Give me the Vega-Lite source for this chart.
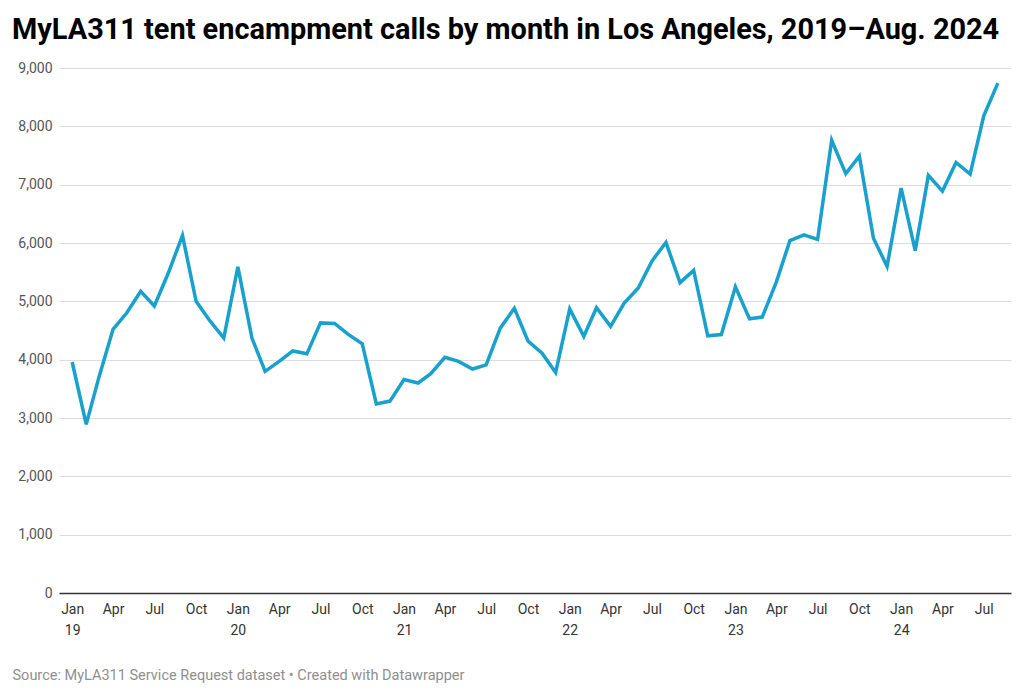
{
  "$schema": "https://vega.github.io/schema/vega-lite/v6.json",
  "width": 952,
  "height": 525,
  "autosize": {"type": "none"},
  "padding": {"left": 59, "top": 68, "right": 13, "bottom": 103},
  "background": "white",
  "title": {
    "text": "MyLA311 tent encampment calls by month in Los Angeles, 2019–Aug. 2024",
    "anchor": "start",
    "frame": "group",
    "dx": -47,
    "dy": 35,
    "offset": 28,
    "baseline": "alphabetic",
    "font": "Roboto",
    "fontSize": 28.9,
    "fontWeight": 700,
    "color": "#000000"
  },
  "config": {
    "view": {"stroke": null},
    "font": "Roboto"
  },
  "data": {
    "values": [
      {"month": "2019-01-01", "calls": 3960},
      {"month": "2019-02-01", "calls": 2890},
      {"month": "2019-03-01", "calls": 3700},
      {"month": "2019-04-01", "calls": 4520},
      {"month": "2019-05-01", "calls": 4800},
      {"month": "2019-06-01", "calls": 5170},
      {"month": "2019-07-01", "calls": 4920},
      {"month": "2019-08-01", "calls": 5490},
      {"month": "2019-09-01", "calls": 6130},
      {"month": "2019-10-01", "calls": 5000},
      {"month": "2019-11-01", "calls": 4660},
      {"month": "2019-12-01", "calls": 4370},
      {"month": "2020-01-01", "calls": 5590},
      {"month": "2020-02-01", "calls": 4370},
      {"month": "2020-03-01", "calls": 3800},
      {"month": "2020-04-01", "calls": 3970},
      {"month": "2020-05-01", "calls": 4150},
      {"month": "2020-06-01", "calls": 4100},
      {"month": "2020-07-01", "calls": 4630},
      {"month": "2020-08-01", "calls": 4620},
      {"month": "2020-09-01", "calls": 4430},
      {"month": "2020-10-01", "calls": 4270},
      {"month": "2020-11-01", "calls": 3240},
      {"month": "2020-12-01", "calls": 3290},
      {"month": "2021-01-01", "calls": 3660},
      {"month": "2021-02-01", "calls": 3600},
      {"month": "2021-03-01", "calls": 3760},
      {"month": "2021-04-01", "calls": 4040},
      {"month": "2021-05-01", "calls": 3970},
      {"month": "2021-06-01", "calls": 3840},
      {"month": "2021-07-01", "calls": 3910},
      {"month": "2021-08-01", "calls": 4540},
      {"month": "2021-09-01", "calls": 4880},
      {"month": "2021-10-01", "calls": 4320},
      {"month": "2021-11-01", "calls": 4110},
      {"month": "2021-12-01", "calls": 3780},
      {"month": "2022-01-01", "calls": 4870},
      {"month": "2022-02-01", "calls": 4400},
      {"month": "2022-03-01", "calls": 4890},
      {"month": "2022-04-01", "calls": 4570},
      {"month": "2022-05-01", "calls": 4970},
      {"month": "2022-06-01", "calls": 5230},
      {"month": "2022-07-01", "calls": 5690},
      {"month": "2022-08-01", "calls": 6010},
      {"month": "2022-09-01", "calls": 5320},
      {"month": "2022-10-01", "calls": 5530},
      {"month": "2022-11-01", "calls": 4410},
      {"month": "2022-12-01", "calls": 4430},
      {"month": "2023-01-01", "calls": 5250},
      {"month": "2023-02-01", "calls": 4700},
      {"month": "2023-03-01", "calls": 4730},
      {"month": "2023-04-01", "calls": 5330},
      {"month": "2023-05-01", "calls": 6040},
      {"month": "2023-06-01", "calls": 6140},
      {"month": "2023-07-01", "calls": 6060},
      {"month": "2023-08-01", "calls": 7760},
      {"month": "2023-09-01", "calls": 7190},
      {"month": "2023-10-01", "calls": 7490},
      {"month": "2023-11-01", "calls": 6080},
      {"month": "2023-12-01", "calls": 5600},
      {"month": "2024-01-01", "calls": 6940},
      {"month": "2024-02-01", "calls": 5870},
      {"month": "2024-03-01", "calls": 7160},
      {"month": "2024-04-01", "calls": 6890},
      {"month": "2024-05-01", "calls": 7380},
      {"month": "2024-06-01", "calls": 7180},
      {"month": "2024-07-01", "calls": 8180},
      {"month": "2024-08-01", "calls": 8740}
    ]
  },
  "mark": {"type": "line", "color": "#18a1cd", "strokeWidth": 3.5, "strokeJoin": "miter", "strokeCap": "butt"},
  "encoding": {
    "x": {
      "field": "month",
      "type": "temporal",
      "scale": {"type": "utc", "domain": [{"year": 2018, "month": 12, "date": 3, "utc": true}, {"year": 2024, "month": 8, "date": 30, "utc": true}], "nice": false},
      "axis": {
        "tickCount": {"interval": "month", "step": 3},
        "labelExpr": "utcmonth(datum.value) == 0 ? ['Jan', utcFormat(datum.value, '%y')] : utcFormat(datum.value, '%b')",
        "labelFont": "Roboto",
        "labelFontSize": 14,
        "labelColor": "#333333",
        "labelLineHeight": 21,
        "labelBaseline": "top",
        "labelPadding": 9,
        "labelFlush": false,
        "labelOverlap": false,
        "ticks": false,
        "domain": false,
        "grid": false,
        "title": "Source: MyLA311 Service Request dataset • Created with Datawrapper",
        "titleFont": "Roboto",
        "titleFontSize": 14.5,
        "titleFontWeight": 400,
        "titleColor": "#8f8f8f",
        "titleAnchor": "start",
        "titleAlign": "left",
        "titleBaseline": "alphabetic",
        "titleX": -47,
        "titleY": 86
      }
    },
    "y": {
      "field": "calls",
      "type": "quantitative",
      "scale": {"domain": [0, 9000], "nice": false},
      "axis": {
        "values": [0, 1000, 2000, 3000, 4000, 5000, 6000, 7000, 8000, 9000],
        "labelExpr": "format(datum.value, ',.0f')",
        "labelFont": "Roboto",
        "labelFontSize": 14,
        "labelColor": "#555555",
        "labelPadding": 7,
        "ticks": false,
        "domain": false,
        "grid": true,
        "gridColor": {"condition": {"test": "datum.value === 0", "value": "#333333"}, "value": "#dddddd"},
        "gridWidth": {"condition": {"test": "datum.value === 0", "value": 1.5}, "value": 1},
        "title": null
      }
    }
  }
}
